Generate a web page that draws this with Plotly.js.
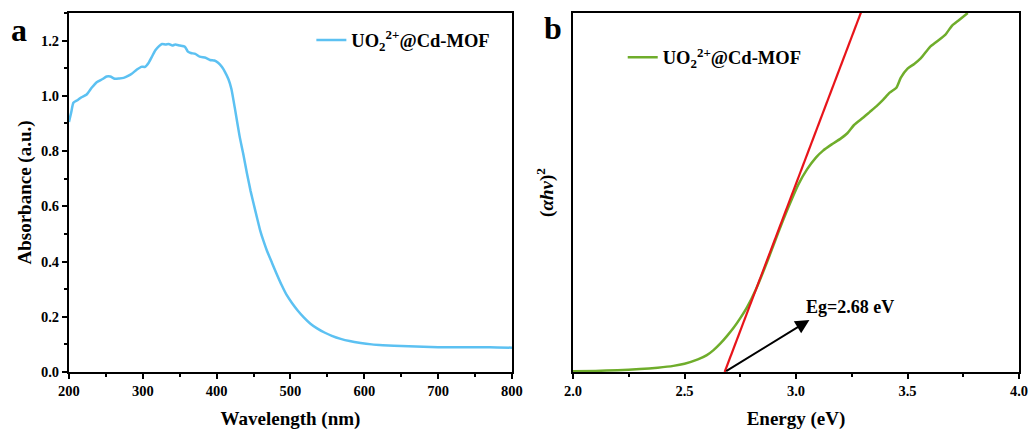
<!DOCTYPE html>
<html>
<head>
<meta charset="utf-8">
<script src="https://cdn.plot.ly/plotly-3.0.1.min.js"></script>
<style>html,body{margin:0;padding:0;background:#fff;}#chart{width:1031px;height:430px;}</style>
</head>
<body>
<div id="chart"></div>
<script>
// Panel a: UV-vis absorbance
const wavelength = [200, 203, 206, 212, 217, 224, 231, 238, 245, 251, 256, 262, 268, 274, 280, 285, 292, 298, 303, 308, 312, 317, 322, 326, 331, 335, 340, 344, 350, 357, 361, 365, 371, 377, 385, 391, 397, 402, 407, 411, 416, 420, 425, 431, 436, 441, 446, 450, 455, 459, 464, 468, 475, 481, 488, 495, 502, 510, 518, 527, 536, 546, 556, 568, 580, 595, 610, 625, 640, 660, 680, 700, 720, 740, 760, 780, 800];
const absorbance = [0.905, 0.94, 0.975, 0.985, 0.995, 1.005, 1.03, 1.05, 1.06, 1.07, 1.07, 1.062, 1.063, 1.065, 1.072, 1.08, 1.095, 1.105, 1.105, 1.12, 1.14, 1.165, 1.18, 1.188, 1.186, 1.188, 1.182, 1.186, 1.182, 1.178, 1.16, 1.155, 1.152, 1.142, 1.138, 1.13, 1.128, 1.12, 1.105, 1.088, 1.06, 1.025, 0.95, 0.855, 0.79, 0.72, 0.655, 0.61, 0.555, 0.512, 0.47, 0.44, 0.395, 0.357, 0.315, 0.278, 0.25, 0.222, 0.198, 0.175, 0.158, 0.143, 0.131, 0.12, 0.112, 0.105, 0.1, 0.097, 0.095, 0.093, 0.091, 0.09, 0.09, 0.09, 0.09, 0.089, 0.088];

// Panel b: Tauc plot
const energy = [2.0, 2.1, 2.2, 2.3, 2.38, 2.45, 2.5, 2.56, 2.6, 2.63, 2.66, 2.69, 2.72, 2.75, 2.78, 2.82, 2.86, 2.9, 2.94, 2.98, 3.01, 3.05, 3.09, 3.12, 3.16, 3.2, 3.23, 3.26, 3.3, 3.33, 3.36, 3.39, 3.42, 3.45, 3.47, 3.5, 3.53, 3.56, 3.6, 3.63, 3.67, 3.7, 3.73, 3.77];
const tauc = [0.002, 0.003, 0.005, 0.008, 0.012, 0.017, 0.023, 0.035, 0.047, 0.061, 0.079, 0.1, 0.123, 0.15, 0.18, 0.23, 0.29, 0.355, 0.42, 0.48, 0.522, 0.565, 0.598, 0.616, 0.634, 0.65, 0.665, 0.688, 0.708, 0.724, 0.74, 0.758, 0.778, 0.792, 0.82, 0.845, 0.858, 0.874, 0.905, 0.92, 0.94, 0.965, 0.98, 1.0];
const fitEnergy = [2.68, 3.30];
const fitTauc = [0, 1.016];
const bandGap = 2.68;
const seriesName = 'UO<sub>2</sub><sup>2+</sup>@Cd-MOF';

const FONT = '"Liberation Serif", "Times New Roman", serif';
const tickFont = {family: FONT, size: 14.5, color: '#000', weight: 'bold'};
const titleFont = {family: FONT, size: 19, color: '#000', weight: 'bold'};
const legendFont = {family: FONT, size: 18.5, color: '#000', weight: 'bold'};

const axisBase = {
  showline: true, linecolor: '#000', linewidth: 2, mirror: true,
  ticks: 'outside', ticklen: 5, tickwidth: 2, tickcolor: '#000',
  showgrid: false, zeroline: false, tickfont: tickFont
};

const traces = [
  {x: wavelength, y: absorbance, type: 'scatter', mode: 'lines', name: seriesName,
   line: {color: '#5cc1f2', width: 2.5, shape: 'spline', smoothing: 0.5}, xaxis: 'x', yaxis: 'y', legend: 'legend'},
  {x: energy, y: tauc, type: 'scatter', mode: 'lines', name: seriesName,
   line: {color: '#6fad2b', width: 2.5, shape: 'spline', smoothing: 0.6}, xaxis: 'x2', yaxis: 'y2', legend: 'legend2'},
  {x: fitEnergy, y: fitTauc, type: 'scatter', mode: 'lines', showlegend: false,
   line: {color: '#e8141a', width: 2.2}, xaxis: 'x2', yaxis: 'y2'}
];

const layout = {
  width: 1031, height: 430,
  margin: {l: 0, r: 0, t: 0, b: 0},
  paper_bgcolor: '#fff', plot_bgcolor: '#fff',
  font: {family: FONT, color: '#000'},
  xaxis: Object.assign({}, axisBase, {
    domain: [0.0669, 0.4966], range: [200, 800], dtick: 100, anchor: 'y',
    minor: {dtick: 50, ticks: 'outside', ticklen: 3, tickwidth: 2, tickcolor: '#000'},
    title: {text: 'Wavelength (nm)', font: titleFont, standoff: 20}
  }),
  yaxis: Object.assign({}, axisBase, {
    domain: [0.1349, 0.9698], range: [0, 1.3], dtick: 0.2, tickformat: '.1f', anchor: 'x',
    minor: {dtick: 0.1, ticks: 'outside', ticklen: 3, tickwidth: 2, tickcolor: '#000'},
    title: {text: 'Absorbance (a.u.)', font: titleFont, standoff: 4}
  }),
  xaxis2: Object.assign({}, axisBase, {
    domain: [0.5558, 0.9884], range: [2.0, 4.0], dtick: 0.5, tickformat: '.1f', anchor: 'y2',
    minor: {dtick: 0.25, ticks: 'outside', ticklen: 3, tickwidth: 2, tickcolor: '#000'},
    title: {text: 'Energy (eV)', font: titleFont, standoff: 20}
  }),
  yaxis2: Object.assign({}, axisBase, {
    domain: [0.1349, 0.9698], range: [0, 1], anchor: 'x2',
    ticks: '', showticklabels: false,
    title: {text: '(<i>αhν</i>)<sup>2</sup>', font: titleFont, standoff: 12}
  }),
  legend: {x: 0.302, y: 0.906, xref: 'paper', yref: 'paper', xanchor: 'left', yanchor: 'middle',
    bgcolor: 'rgba(0,0,0,0)', font: legendFont},
  legend2: {x: 0.604, y: 0.866, xref: 'paper', yref: 'paper', xanchor: 'left', yanchor: 'middle',
    bgcolor: 'rgba(0,0,0,0)', font: legendFont},
  annotations: [
    {x: 3.06, y: 0.145, xref: 'x2', yref: 'y2', ax: bandGap, ay: 0, axref: 'x2', ayref: 'y2',
     showarrow: true, arrowhead: 2, arrowsize: 1.4, arrowwidth: 2, arrowcolor: '#000', text: ''},
    {x: 3.035, y: 0.18, xref: 'x2', yref: 'y2', text: 'Eg=' + bandGap.toFixed(2) + ' eV', showarrow: false,
     xanchor: 'left', yanchor: 'middle', font: {family: FONT, size: 18, color: '#000', weight: 'bold'}},
    {x: 0.009, y: 0.93, xref: 'paper', yref: 'paper', text: 'a', showarrow: false,
     xanchor: 'left', yanchor: 'middle', font: {family: FONT, size: 32, color: '#000', weight: 'bold'}},
    {x: 0.526, y: 0.935, xref: 'paper', yref: 'paper', text: 'b', showarrow: false,
     xanchor: 'left', yanchor: 'middle', font: {family: FONT, size: 32, color: '#000', weight: 'bold'}}
  ]
};

Plotly.newPlot('chart', traces, layout, {displayModeBar: false, staticPlot: true});
</script>
</body>
</html>
